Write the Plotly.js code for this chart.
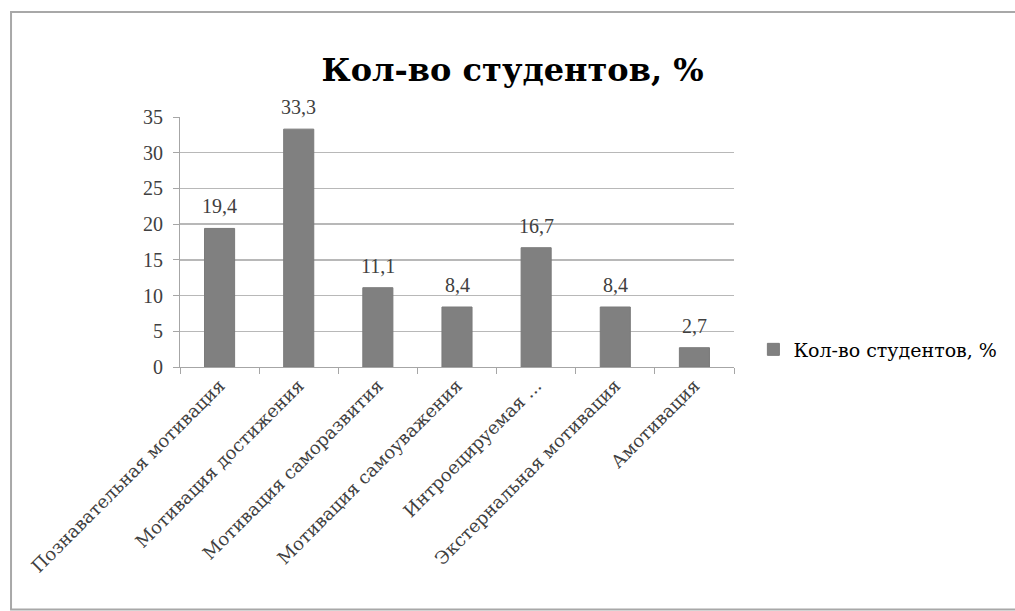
<!DOCTYPE html>
<html>
<head>
<meta charset="utf-8">
<script src="https://cdn.plot.ly/plotly-3.0.1.min.js"></script>
<style>
  html, body { margin: 0; padding: 0; background: #fff; }
  #chart { width: 1015px; height: 611px; }
</style>
</head>
<body>
<div id="chart"></div>
<script>
// Motivation types and share of students (%)
const categories = [
  "Познавательная мотивация",
  "Мотивация достижения",
  "Мотивация саморазвития",
  "Мотивация самоуважения",
  "Интроецируемая ...",
  "Экстернальная мотивация",
  "Амотивация"
];
const shares = [19.4, 33.3, 11.1, 8.4, 16.7, 8.4, 2.7];
const seriesName = "Кол-во студентов, %";
const yTicks = [0, 5, 10, 15, 20, 25, 30, 35];

const serif = "DejaVu Serif";
const digits = "Liberation Serif, DejaVu Serif, serif";

const trace = {
  type: "bar",
  x: categories,
  y: shares,
  name: seriesName,
  marker: { color: "#808080", line: { color: "#7a7a7a", width: 1 } },
  showlegend: true,
  hoverinfo: "x+y"
};

// value labels placed just above each bar
const valueLabels = categories.map((c, i) => ({
  x: c,
  y: shares[i],
  xref: "x", yref: "y",
  text: shares[i].toFixed(1).replace(".", ","),
  showarrow: false,
  yanchor: "bottom",
  yshift: 9,
  font: { family: digits, size: 20, color: "#404040" }
}));

const layout = {
  width: 1015,
  height: 611,
  margin: { l: 180, r: 281, t: 117, b: 244, pad: 0 },
  paper_bgcolor: "#ffffff",
  plot_bgcolor: "#ffffff",
  bargap: 0.62,
  title: {
    text: "<b>" + seriesName + "</b>",
    font: { family: serif, size: 32, color: "#000000" },
    x: 0.505, xanchor: "center",
    y: 0.885, yanchor: "middle"
  },
  xaxis: {
    type: "category",
    tickson: "boundaries",
    ticks: "outside",
    ticklen: 6,
    tickcolor: "#a6a6a6",
    tickangle: -45,
    tickfont: { family: serif, size: 18, color: "#404040" },
    showline: true,
    linecolor: "#a6a6a6",
    linewidth: 1,
    showgrid: false,
    zeroline: false
  },
  yaxis: {
    range: [0, 35],
    tickvals: yTicks,
    ticks: "outside",
    ticklen: 6,
    tickcolor: "#a6a6a6",
    ticklabelstandoff: 6,
    tickfont: { family: digits, size: 20, color: "#404040" },
    showline: true,
    linecolor: "#a6a6a6",
    linewidth: 1,
    showgrid: true,
    gridcolor: "#b8b8b8",
    gridwidth: 1.5,
    zeroline: false
  },
  legend: {
    x: 1.035, xanchor: "left",
    y: 0.07, yanchor: "middle",
    font: { family: serif, size: 19, color: "#000000" },
    itemwidth: 30,
    bgcolor: "rgba(0,0,0,0)"
  },
  annotations: valueLabels,
  shapes: [{
    type: "rect",
    xref: "paper", yref: "paper",
    x0: -0.305, x1: 1.6,
    y0: -0.97, y1: 1.42,
    line: { color: "#a8a8a8", width: 2 },
    fillcolor: "rgba(0,0,0,0)",
    layer: "below"
  }]
};

Plotly.newPlot("chart", [trace], layout, { displayModeBar: false, staticPlot: true });
</script>
</body>
</html>
